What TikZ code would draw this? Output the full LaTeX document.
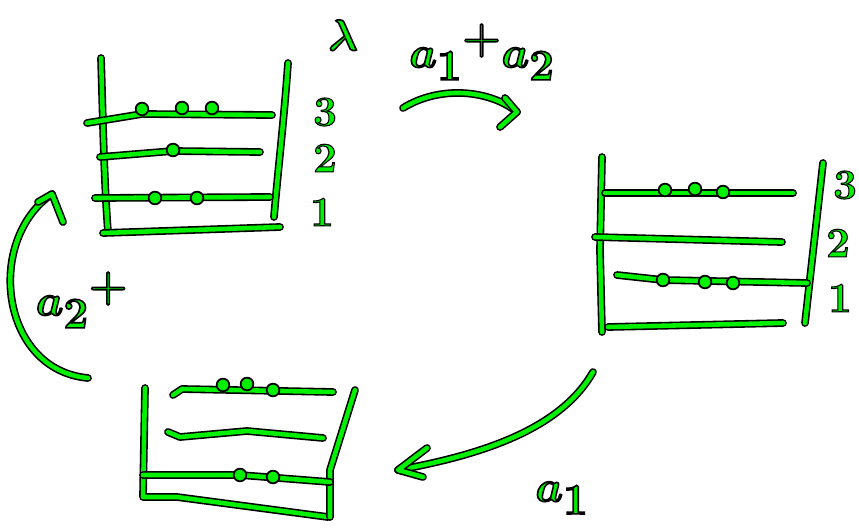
\documentclass[tikz,border=0pt]{standalone}
\usepackage{tikz}
\usetikzlibrary{calc}
\definecolor{penGreen}{HTML}{00F000}
% green letters with a black rim (fill, then stroke)
\newcommand{\ink}[2][0.9]{\textcolor{penGreen}{\special{pdf:literal direct 2 Tr #1 w 0 0 0 RG}#2\special{pdf:literal direct 0 Tr}}}

\begin{document}
\begin{tikzpicture}[x=0.02cm, y=-0.02cm,
    pen/.style={draw=penGreen, line width=2.6pt, line cap=round, line join=round,
      preaction={draw=black, line width=4.4pt, line cap=round, line join=round}},
    bead/.style={fill=penGreen, draw=black, line width=1pt},
    digit/.style={inner sep=0pt, font=\fontsize{24}{26}\selectfont\bfseries},
    opname/.style={inner sep=0pt, font=\fontsize{36}{40}\selectfont\boldmath}]
    \useasboundingbox (0,0) rectangle (859,528);

    % top left abacus
    \draw[pen] (101,58) .. controls (103,120) and (104,180) .. (108,232);
    \draw[pen] (103,233) -- (280,227);
    \draw[pen] (288,63) .. controls (284,120) and (278,170) .. (274,217);
    \draw[pen] (87,123) -- (142,114) -- (272,115);
    \draw[pen] (100,157) -- (173,151) -- (260,152);
    \draw[pen] (95,198) -- (270,197);
    \foreach \p in {(142,109),(182,108),(212,108),(173,150),(155,198),(197,198)}
      \filldraw[bead] \p circle (3.6pt);
    \node[digit] (tl3) at (325,112) {\ink[0.6]{3}};
    \node[digit] (tl2) at (325,158) {\ink[0.6]{2}};
    \node[digit] (tl1) at (322,212) {\ink[0.6]{1}};
    \node[digit, font=\fontsize{30}{32}\selectfont\boldmath] (lam) at (343,35) {\ink{$\lambda$}};

    % right abacus
    \draw[pen] (602,157) -- (600,250) -- (602,332);
    \draw[pen] (823,163) -- (805,323);
    \draw[pen] (605,193) -- (793,193);
    \draw[pen] (595,237) -- (782,242);
    \draw[pen] (617,275) -- (663,280) -- (807,283);
    \draw[pen] (608,327) -- (783,323);
    \foreach \p in {(665,190),(695,189),(723,192),(663,280),(705,282),(733,283)}
      \filldraw[bead] \p circle (3.6pt);
    \node[digit] (r3) at (845,185) {\ink[0.6]{3}};
    \node[digit] (r2) at (838,243) {\ink[0.6]{2}};
    \node[digit] (r1) at (840,298) {\ink[0.6]{1}};

    % bottom abacus
    \draw[pen] (145,388) -- (143,497) -- (177,497) -- (328,517);
    \draw[pen] (355,390) -- (330,470) -- (330,517);
    \draw[pen] (173,395) -- (182,389) -- (333,392);
    \draw[pen] (168,432) -- (180,437) -- (247,431) -- (323,438);
    \draw[pen] (143,475) -- (240,475) -- (330,482);
    \foreach \p in {(223,385),(247,384),(273,390),(240,475),(273,477)}
      \filldraw[bead] \p circle (3.6pt);

    % arrows
    \coordinate (topS) at (403,108);
    \coordinate (topE) at (517,112);
    \draw[pen] (topS) .. controls (440,85) and (490,90) .. (topE);
    \draw[pen] (505,98) -- (topE) -- (500,127);
    \node[opname] (opTop) at (482,52) {\ink{$a_1{}^+a_2$}};

    \coordinate (leftS) at (88,378);
    \coordinate (leftE) at (52,194);
    \draw[pen] (leftS) .. controls (0,370) and (-15,240) .. (leftE);
    \draw[pen] (38,202) -- (leftE) -- (63,222);
    \node[opname] (opLeft) at (82,300) {\ink{$a_2{}^+$}};

    \coordinate (botS) at (593,372);
    \coordinate (botE) at (398,470);
    \draw[pen] (botS) .. controls (560,430) and (480,455) .. (botE);
    \draw[pen] (427,448) -- (botE) -- (423,477);
    \node[opname] (opBot) at (562,498) {\ink{$a_1$}};
\end{tikzpicture}
\end{document}
